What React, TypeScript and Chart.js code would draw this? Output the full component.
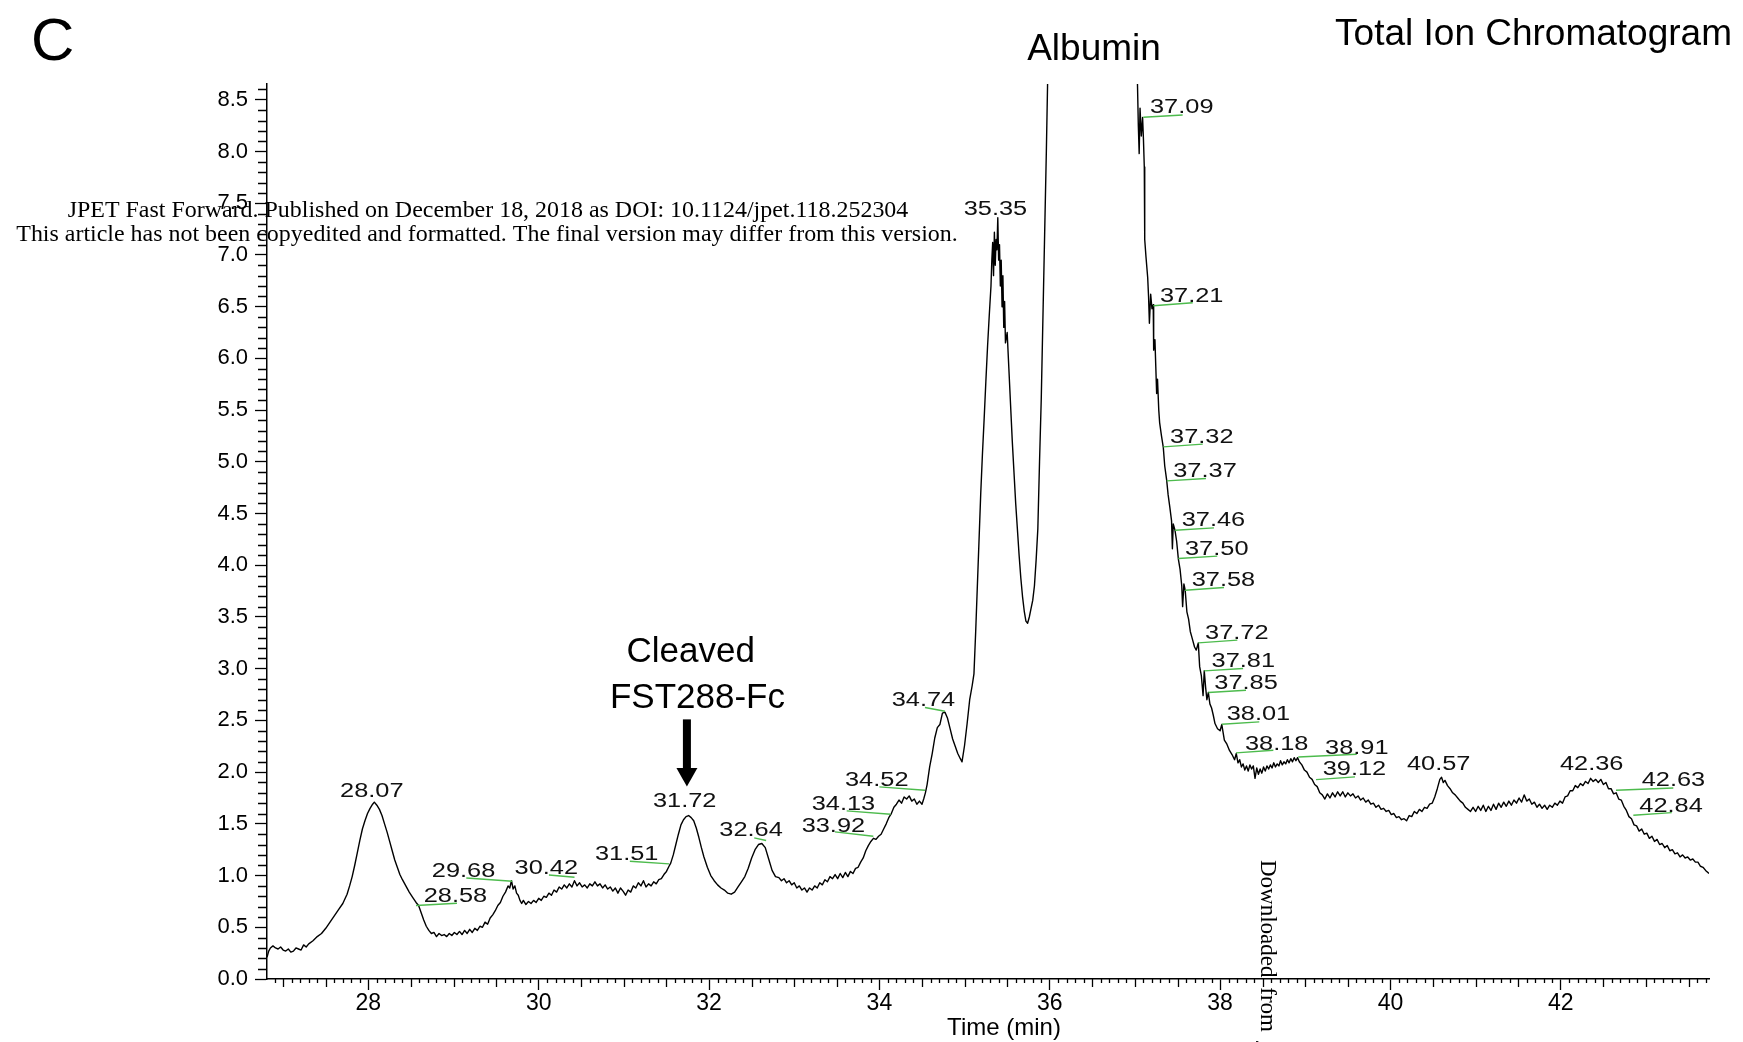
import { useEffect, useRef } from 'react';
import { Chart, registerables } from 'chart.js';

Chart.register(...registerables);

// ---- Data (time in min, relative intensity) ----
const ticTrace: [number, number][] = [
  [26.81, 0.21], [26.83, 0.27], [26.85, 0.30], [26.88, 0.32], [26.91, 0.30], [26.94, 0.29], [26.97, 0.31], [27.0, 0.28],
  [27.03, 0.27], [27.06, 0.29], [27.09, 0.26], [27.12, 0.27], [27.15, 0.30], [27.18, 0.29], [27.21, 0.28], [27.24, 0.33],
  [27.27, 0.31], [27.3, 0.34], [27.35, 0.37], [27.4, 0.41], [27.45, 0.44], [27.5, 0.49], [27.55, 0.55], [27.6, 0.61],
  [27.65, 0.67], [27.7, 0.73], [27.75, 0.82], [27.78, 0.9], [27.81, 0.99], [27.84, 1.1], [27.87, 1.22], [27.9, 1.34],
  [27.93, 1.45], [27.96, 1.53], [27.99, 1.6], [28.02, 1.65], [28.05, 1.69], [28.07, 1.71], [28.1, 1.68], [28.13, 1.64],
  [28.16, 1.58], [28.19, 1.5], [28.22, 1.42], [28.25, 1.33], [28.28, 1.24], [28.31, 1.15], [28.34, 1.08], [28.37, 1.01],
  [28.4, 0.96], [28.44, 0.9], [28.48, 0.84], [28.52, 0.79], [28.56, 0.74], [28.59, 0.71], [28.62, 0.64], [28.65, 0.57],
  [28.68, 0.51], [28.71, 0.47], [28.74, 0.44], [28.77, 0.45], [28.8, 0.41], [28.83, 0.44], [28.86, 0.42], [28.89, 0.43],
  [28.92, 0.41], [28.95, 0.44], [28.98, 0.42], [29.01, 0.45], [29.04, 0.43], [29.07, 0.46], [29.1, 0.43], [29.13, 0.47],
  [29.16, 0.44], [29.19, 0.48], [29.22, 0.45], [29.25, 0.49], [29.28, 0.47], [29.31, 0.51], [29.34, 0.5], [29.37, 0.55],
  [29.4, 0.53], [29.43, 0.59], [29.46, 0.62], [29.49, 0.66], [29.52, 0.71], [29.55, 0.74], [29.58, 0.8], [29.61, 0.84],
  [29.64, 0.9], [29.66, 0.88], [29.68, 0.95], [29.7, 0.87], [29.72, 0.9], [29.74, 0.83], [29.76, 0.81], [29.78, 0.76],
  [29.8, 0.73], [29.82, 0.76], [29.85, 0.72], [29.88, 0.75], [29.91, 0.73], [29.94, 0.76], [29.97, 0.74], [30.0, 0.78],
  [30.03, 0.76], [30.06, 0.8], [30.09, 0.79], [30.12, 0.83], [30.15, 0.81], [30.18, 0.86], [30.21, 0.84], [30.24, 0.89],
  [30.27, 0.87], [30.3, 0.91], [30.33, 0.88], [30.36, 0.92], [30.39, 0.89], [30.42, 0.95], [30.45, 0.9], [30.48, 0.93],
  [30.51, 0.89], [30.54, 0.91], [30.57, 0.88], [30.6, 0.92], [30.63, 0.9], [30.66, 0.94], [30.69, 0.9], [30.72, 0.92],
  [30.75, 0.88], [30.78, 0.91], [30.81, 0.87], [30.84, 0.89], [30.87, 0.85], [30.9, 0.88], [30.93, 0.83], [30.96, 0.88],
  [30.99, 0.85], [31.02, 0.81], [31.05, 0.86], [31.08, 0.84], [31.11, 0.9], [31.14, 0.88], [31.17, 0.93], [31.2, 0.9],
  [31.23, 0.95], [31.26, 0.89], [31.29, 0.92], [31.32, 0.9], [31.35, 0.94], [31.38, 0.92], [31.41, 0.96], [31.44, 0.97],
  [31.47, 1.01], [31.5, 1.04], [31.53, 1.09], [31.55, 1.12], [31.58, 1.2], [31.61, 1.3], [31.64, 1.4], [31.67, 1.49],
  [31.7, 1.54], [31.73, 1.57], [31.76, 1.58], [31.79, 1.56], [31.82, 1.53], [31.85, 1.46], [31.88, 1.37], [31.91, 1.27],
  [31.94, 1.18], [31.98, 1.08], [32.02, 1.0], [32.06, 0.95], [32.1, 0.91], [32.14, 0.88], [32.18, 0.86], [32.22, 0.83],
  [32.26, 0.82], [32.3, 0.84], [32.34, 0.89], [32.38, 0.94], [32.42, 0.99], [32.46, 1.07], [32.5, 1.17], [32.54, 1.25],
  [32.58, 1.3], [32.62, 1.31], [32.66, 1.27], [32.7, 1.16], [32.74, 1.05], [32.78, 0.99], [32.82, 0.98], [32.85, 0.95],
  [32.88, 0.97], [32.91, 0.93], [32.94, 0.95], [32.97, 0.91], [33.0, 0.93], [33.03, 0.88], [33.06, 0.9], [33.09, 0.86],
  [33.12, 0.88], [33.15, 0.84], [33.18, 0.88], [33.21, 0.86], [33.24, 0.9], [33.27, 0.88], [33.3, 0.93], [33.33, 0.91],
  [33.36, 0.96], [33.39, 0.94], [33.42, 0.99], [33.45, 0.97], [33.48, 1.01], [33.51, 0.97], [33.54, 1.02], [33.57, 0.98],
  [33.6, 1.03], [33.63, 0.99], [33.66, 1.04], [33.69, 1.02], [33.72, 1.07], [33.75, 1.08], [33.78, 1.13], [33.81, 1.17],
  [33.84, 1.24], [33.87, 1.29], [33.9, 1.33], [33.93, 1.36], [33.96, 1.35], [33.99, 1.38], [34.02, 1.4], [34.05, 1.45],
  [34.08, 1.5], [34.11, 1.56], [34.14, 1.6], [34.17, 1.66], [34.2, 1.69], [34.23, 1.73], [34.26, 1.7], [34.29, 1.76],
  [34.32, 1.74], [34.35, 1.77], [34.38, 1.72], [34.41, 1.74], [34.44, 1.69], [34.47, 1.72], [34.5, 1.69], [34.52, 1.74],
  [34.54, 1.8], [34.56, 1.88], [34.59, 2.05], [34.62, 2.18], [34.65, 2.33], [34.68, 2.43], [34.71, 2.46],
  [34.74, 2.57], [34.77, 2.58], [34.8, 2.52], [34.83, 2.42], [34.86, 2.32], [34.89, 2.25], [34.92, 2.18], [34.95, 2.13],
  [34.97, 2.1], [35.0, 2.26], [35.03, 2.47], [35.06, 2.7], [35.09, 2.84], [35.11, 2.95], [35.13, 3.35], [35.15, 3.8],
  [35.17, 4.25], [35.19, 4.7], [35.21, 5.08], [35.23, 5.42], [35.25, 5.78], [35.27, 6.12], [35.29, 6.42], [35.31, 6.7],
  [35.32, 6.95], [35.33, 7.12], [35.34, 6.8], [35.35, 7.22], [35.36, 6.9], [35.37, 7.15], [35.38, 7.05], [35.39, 7.36],
  [35.4, 6.95], [35.41, 7.1], [35.42, 6.7], [35.43, 6.95], [35.44, 6.5], [35.45, 6.8], [35.46, 6.3], [35.47, 6.55],
  [35.48, 6.15], [35.5, 6.25], [35.52, 5.9], [35.54, 5.55], [35.56, 5.2], [35.58, 4.9], [35.6, 4.6], [35.62, 4.35],
  [35.64, 4.1], [35.66, 3.88], [35.68, 3.7], [35.7, 3.56], [35.72, 3.46], [35.74, 3.44], [35.76, 3.5], [35.78, 3.58],
  [35.8, 3.66], [35.82, 3.8], [35.84, 4.05], [35.86, 4.35], [35.88, 5.0], [35.9, 5.6], [35.92, 6.4], [35.94, 7.2],
  [35.96, 8.0], [35.98, 8.9], [36.0, 9.8], [36.05, 12.4], [36.15, 15.5], [36.3, 18.2], [36.5, 19.6], [36.7, 18.1],
  [36.85, 14.6], [36.95, 11.6], [37.0, 9.7], [37.02, 8.95], [37.03, 8.65], [37.04, 8.25], [37.05, 7.98], [37.06, 8.42],
  [37.075, 8.15], [37.09, 8.33], [37.1, 8.12], [37.11, 7.85], [37.115, 7.15], [37.13, 6.98], [37.15, 6.78], [37.16, 6.6],
  [37.17, 6.34], [37.185, 6.62], [37.2, 6.48], [37.215, 6.52], [37.22, 6.08], [37.235, 6.18], [37.245, 5.92], [37.255, 5.66],
  [37.265, 5.8], [37.28, 5.5], [37.29, 5.38], [37.31, 5.26], [37.333, 5.14], [37.35, 4.96], [37.373, 4.82], [37.39, 4.68],
  [37.41, 4.56], [37.43, 4.43], [37.44, 4.16], [37.45, 4.4], [37.47, 4.34], [37.49, 4.23], [37.51, 4.06], [37.53, 3.96],
  [37.55, 3.8], [37.56, 3.6], [37.575, 3.82], [37.59, 3.76], [37.61, 3.55], [37.63, 3.48], [37.65, 3.36], [37.67, 3.3],
  [37.7, 3.21], [37.72, 3.18], [37.744, 3.25], [37.76, 3.02], [37.78, 2.93], [37.8, 2.74], [37.814, 2.98], [37.83, 2.82],
  [37.845, 2.7], [37.862, 2.77], [37.88, 2.66], [37.9, 2.62], [37.92, 2.55], [37.94, 2.47], [37.97, 2.42], [38.0, 2.4],
  [38.02, 2.46], [38.05, 2.31], [38.08, 2.27], [38.11, 2.21], [38.14, 2.17], [38.17, 2.12], [38.19, 2.18], [38.21, 2.09],
  [38.23, 2.12], [38.25, 2.05], [38.27, 2.08], [38.29, 2.02], [38.31, 2.06], [38.33, 2.01], [38.35, 2.07], [38.37, 2.03],
  [38.39, 2.06], [38.41, 1.94], [38.43, 2.04], [38.45, 1.98], [38.47, 2.03], [38.49, 1.99], [38.51, 2.05], [38.53, 2.01],
  [38.55, 2.06], [38.57, 2.03], [38.59, 2.07], [38.61, 2.04], [38.63, 2.09], [38.65, 2.05], [38.67, 2.08], [38.69, 2.06],
  [38.71, 2.11], [38.73, 2.07], [38.75, 2.1], [38.77, 2.08], [38.79, 2.12], [38.81, 2.09], [38.83, 2.13], [38.85, 2.1],
  [38.87, 2.14], [38.89, 2.11], [38.91, 2.14], [38.93, 2.1], [38.96, 2.07], [38.99, 2.02], [39.02, 2.0], [39.05, 1.95],
  [39.08, 1.93], [39.11, 1.88], [39.14, 1.86], [39.17, 1.8], [39.2, 1.78], [39.23, 1.74], [39.26, 1.79], [39.29, 1.75],
  [39.32, 1.8], [39.35, 1.76], [39.38, 1.81], [39.41, 1.77], [39.44, 1.81], [39.47, 1.76], [39.5, 1.8], [39.53, 1.77],
  [39.56, 1.79], [39.59, 1.75], [39.62, 1.77], [39.65, 1.73], [39.68, 1.75], [39.71, 1.71], [39.74, 1.73], [39.77, 1.69],
  [39.8, 1.7], [39.83, 1.66], [39.86, 1.68], [39.89, 1.64], [39.92, 1.65], [39.95, 1.62], [39.98, 1.63], [40.01, 1.59],
  [40.04, 1.6], [40.07, 1.56], [40.1, 1.57], [40.13, 1.54], [40.16, 1.55], [40.19, 1.53], [40.22, 1.58], [40.25, 1.57],
  [40.28, 1.62], [40.31, 1.6], [40.34, 1.64], [40.37, 1.62], [40.4, 1.66], [40.43, 1.65], [40.46, 1.69], [40.49, 1.7],
  [40.52, 1.76], [40.55, 1.84], [40.58, 1.93], [40.6, 1.95], [40.62, 1.9], [40.64, 1.92], [40.67, 1.87], [40.7, 1.84],
  [40.73, 1.8], [40.76, 1.78], [40.79, 1.75], [40.82, 1.72], [40.85, 1.7], [40.88, 1.66], [40.91, 1.64], [40.94, 1.62],
  [40.97, 1.66], [41.0, 1.62], [41.03, 1.67], [41.06, 1.63], [41.09, 1.68], [41.12, 1.62], [41.15, 1.67], [41.18, 1.63],
  [41.21, 1.69], [41.24, 1.64], [41.27, 1.7], [41.3, 1.66], [41.33, 1.71], [41.36, 1.67], [41.39, 1.72], [41.42, 1.68],
  [41.45, 1.73], [41.48, 1.7], [41.51, 1.75], [41.54, 1.71], [41.57, 1.78], [41.6, 1.72], [41.63, 1.74], [41.66, 1.69],
  [41.69, 1.71], [41.72, 1.66], [41.75, 1.69], [41.78, 1.65], [41.81, 1.68], [41.84, 1.64], [41.87, 1.68], [41.9, 1.66],
  [41.93, 1.7], [41.96, 1.68], [41.99, 1.72], [42.02, 1.7], [42.05, 1.76], [42.08, 1.77], [42.11, 1.82], [42.14, 1.82],
  [42.17, 1.87], [42.2, 1.85], [42.23, 1.89], [42.26, 1.87], [42.29, 1.91], [42.32, 1.89], [42.35, 1.94], [42.38, 1.91],
  [42.41, 1.93], [42.44, 1.9], [42.47, 1.93], [42.5, 1.88], [42.53, 1.9], [42.56, 1.84], [42.59, 1.84], [42.62, 1.79],
  [42.65, 1.8], [42.68, 1.74], [42.71, 1.73], [42.74, 1.67], [42.77, 1.63], [42.8, 1.57], [42.83, 1.55], [42.86, 1.49],
  [42.89, 1.48], [42.92, 1.43], [42.95, 1.45], [42.98, 1.4], [43.01, 1.41], [43.04, 1.36], [43.07, 1.38], [43.1, 1.33],
  [43.13, 1.35], [43.16, 1.3], [43.19, 1.31], [43.22, 1.27], [43.25, 1.29], [43.28, 1.24], [43.31, 1.25], [43.34, 1.21],
  [43.37, 1.22], [43.4, 1.18], [43.43, 1.2], [43.46, 1.17], [43.49, 1.18], [43.52, 1.15], [43.55, 1.16], [43.58, 1.13],
  [43.61, 1.13], [43.64, 1.09], [43.67, 1.08], [43.7, 1.05], [43.74, 1.02],
];

// Peak retention times that are labelled on the trace
const peakTimes = [
  28.07, 28.58, 29.68, 30.42, 31.51, 31.72, 32.64, 33.92, 34.13, 34.52, 34.74, 35.35, 37.09, 37.21, 37.32,
  37.37, 37.46, 37.5, 37.58, 37.72, 37.81, 37.85, 38.01, 38.18, 38.91, 39.12, 40.57, 42.36, 42.63, 42.84,
];

// Axis extents (min, intensity)
const X_MIN = 26.81;
const X_MAX = 43.74;
const Y_MAX = 8.653;

// ---- Layout of the peak labels (data units): text anchor, alignment and leader line ----
type LabelLayout = { t: number; v: number; align: 'left' | 'center'; leader?: [number, number, number, number] };
const peakLabelLayout: LabelLayout[] = [
  { t: 28.04, v: 1.757, align: 'center' },
  { t: 28.65, v: 0.742, align: 'left', leader: [28.56, 0.71, 29.04, 0.732] },
  { t: 28.745, v: 0.99, align: 'left', leader: [29.15, 0.977, 29.69, 0.945] },
  { t: 29.716, v: 1.016, align: 'left', leader: [30.12, 1.006, 30.42, 0.984] },
  { t: 30.66, v: 1.152, align: 'left', leader: [31.07, 1.139, 31.53, 1.113] },
  { t: 31.714, v: 1.663, align: 'center' },
  { t: 32.12, v: 1.387, align: 'left', leader: [32.53, 1.365, 32.67, 1.339] },
  { t: 33.087, v: 1.422, align: 'left', leader: [33.478, 1.422, 33.928, 1.38] },
  { t: 33.205, v: 1.638, align: 'left', leader: [33.616, 1.625, 34.132, 1.593] },
  { t: 33.596, v: 1.864, align: 'left', leader: [34.0, 1.857, 34.535, 1.825] },
  { t: 34.144, v: 2.637, align: 'left', leader: [34.535, 2.625, 34.77, 2.589] },
  { t: 35.362, v: 7.39, align: 'center' },
  { t: 37.177, v: 8.369, align: 'left', leader: [37.098, 8.331, 37.56, 8.353] },
  { t: 37.294, v: 6.547, align: 'left', leader: [37.216, 6.509, 37.678, 6.538] },
  { t: 37.412, v: 5.184, align: 'left', leader: [37.333, 5.145, 37.796, 5.171] },
  { t: 37.45, v: 4.855, align: 'left', leader: [37.373, 4.816, 37.834, 4.839] },
  { t: 37.549, v: 4.378, align: 'left', leader: [37.47, 4.339, 37.928, 4.362] },
  { t: 37.588, v: 4.098, align: 'left', leader: [37.509, 4.066, 37.967, 4.088] },
  { t: 37.666, v: 3.798, align: 'left', leader: [37.588, 3.759, 38.046, 3.785] },
  { t: 37.823, v: 3.285, align: 'left', leader: [37.744, 3.25, 38.202, 3.276] },
  { t: 37.9, v: 3.017, align: 'left', leader: [37.814, 2.979, 38.27, 3.002] },
  { t: 37.932, v: 2.808, align: 'left', leader: [37.862, 2.77, 38.304, 2.792] },
  { t: 38.077, v: 2.502, align: 'left', leader: [38.019, 2.463, 38.46, 2.486] },
  { t: 38.292, v: 2.218, align: 'left', leader: [38.187, 2.186, 38.625, 2.212] },
  { t: 39.232, v: 2.18, align: 'left', leader: [38.918, 2.147, 39.604, 2.173] },
  { t: 39.205, v: 1.97, align: 'left', leader: [39.126, 1.928, 39.584, 1.954] },
  { t: 40.566, v: 2.018, align: 'center' },
  { t: 42.363, v: 2.018, align: 'center' },
  { t: 42.95, v: 1.864, align: 'left', leader: [42.648, 1.825, 43.321, 1.847] },
  { t: 42.922, v: 1.615, align: 'left', leader: [42.852, 1.583, 43.302, 1.609] },
];

const SANS = "'Liberation Sans', Arial, Helvetica, sans-serif";
const SERIF = "'Liberation Serif', 'Times New Roman', serif";

const watermarkLines = [
  'JPET Fast Forward. Published on December 18, 2018 as DOI: 10.1124/jpet.118.252304',
  'This article has not been copyedited and formatted. The final version may differ from this version.',
];
const sideWatermark = 'Downloaded from jpet.aspetjournals.org at ASPET Journals on';

function fillStretched(
  ctx: CanvasRenderingContext2D,
  text: string,
  x: number,
  y: number,
  font: string,
  targetWidth: number,
  align: CanvasTextAlign,
) {
  ctx.save();
  ctx.font = font;
  const w = ctx.measureText(text).width;
  const sx = w > 0 ? targetWidth / w : 1;
  ctx.translate(x, y);
  ctx.scale(sx, 1);
  ctx.textAlign = align;
  ctx.textBaseline = 'alphabetic';
  ctx.fillText(text, 0, 0);
  ctx.restore();
}

const overlayPlugin = {
  id: 'ticOverlay',
  afterDraw(chart: any) {
    const { ctx, chartArea } = chart;
    const xs = chart.scales.x;
    const ys = chart.scales.y;
    const px = (t: number) => xs.getPixelForValue(t);
    const py = (v: number) => ys.getPixelForValue(v);

    ctx.save();
    // minor ticks
    ctx.strokeStyle = '#000';
    ctx.lineWidth = 1.3;
    ctx.beginPath();
    for (let k = Math.ceil(X_MIN * 10); k <= Math.floor(X_MAX * 10); k++) {
      if (k % 20 === 0) continue;
      const len = k % 5 === 0 ? 8 : 4;
      const xx = Math.round(px(k / 10)) + 0.5;
      ctx.moveTo(xx, chartArea.bottom);
      ctx.lineTo(xx, chartArea.bottom + len);
    }
    for (let k = 1; k <= Math.floor(Y_MAX * 10 + 1e-6); k++) {
      if (k % 5 === 0) continue;
      const yy = Math.round(py(k / 10)) + 0.5;
      ctx.moveTo(chartArea.left - 9, yy);
      ctx.lineTo(chartArea.left, yy);
    }
    ctx.stroke();

    // peak labels with green leader lines
    ctx.strokeStyle = '#4dbb4d';
    ctx.lineWidth = 1.4;
    peakLabelLayout.forEach((lay) => {
      if (!lay.leader) return;
      const [t1, v1, t2, v2] = lay.leader;
      ctx.beginPath();
      ctx.moveTo(px(t1), py(v1));
      ctx.lineTo(px(t2), py(v2));
      ctx.stroke();
    });
    ctx.fillStyle = '#111';
    peakTimes.forEach((pt, i) => {
      const lay = peakLabelLayout[i];
      fillStretched(ctx, pt.toFixed(2), px(lay.t), py(lay.v), `20px ${SANS}`, 63.5, lay.align);
    });

    // Cleaved FST288-Fc annotation with arrow
    ctx.fillStyle = '#000';
    ctx.font = `35px ${SANS}`;
    ctx.textAlign = 'center';
    ctx.textBaseline = 'alphabetic';
    ctx.fillText('Cleaved', px(31.785), py(3.063));
    ctx.fillText('FST288-Fc', px(31.864), py(2.618));
    const ax = px(31.74);
    const aTop = py(2.51);
    const aHead = py(2.04);
    const aTip = py(1.86);
    ctx.fillRect(ax - 4, aTop, 8, aHead - aTop + 1);
    ctx.beginPath();
    ctx.moveTo(ax - 10.5, aHead);
    ctx.lineTo(ax + 10.5, aHead);
    ctx.lineTo(ax, aTip);
    ctx.closePath();
    ctx.fill();

    // titles
    ctx.font = `37px ${SANS}`;
    ctx.textAlign = 'center';
    ctx.fillText('Albumin', 1094, 60);
    ctx.textAlign = 'right';
    ctx.fillText('Total Ion Chromatogram', 1732, 45);
    ctx.textAlign = 'left';
    ctx.font = `60px ${SANS}`;
    ctx.fillText('C', 31, 60);

    // x-axis title
    ctx.font = `24px ${SANS}`;
    ctx.textAlign = 'center';
    ctx.fillText('Time (min)', 1004, 1035);

    // journal watermark
    ctx.font = `22px ${SERIF}`;
    const w2 = ctx.measureText(watermarkLines[1]).width;
    const wmSize = (22 * 942) / w2;
    ctx.font = `${wmSize}px ${SERIF}`;
    ctx.textAlign = 'center';
    ctx.fillText(watermarkLines[0], 488, 217);
    ctx.fillText(watermarkLines[1], 487, 241);

    ctx.save();
    ctx.translate(1267, 860);
    ctx.rotate(Math.PI / 2);
    ctx.font = `23px ${SERIF}`;
    try {
      (ctx as any).wordSpacing = '4px';
    } catch (e) {
      /* ignore */
    }
    ctx.textAlign = 'left';
    ctx.textBaseline = 'middle';
    ctx.fillText(sideWatermark, 0, 0);
    ctx.restore();

    ctx.restore();
  },
};

export default function App() {
  const canvasRef = useRef<HTMLCanvasElement | null>(null);

  useEffect(() => {
    const canvas = canvasRef.current;
    if (!canvas) return;
    const chart = new Chart(canvas, {
      type: 'line',
      data: {
        datasets: [
          {
            label: 'Total Ion Chromatogram',
            data: ticTrace.map(([t, v]) => ({ x: t, y: v })),
            borderColor: '#000',
            borderWidth: 1.4,
            borderJoinStyle: 'round',
            pointRadius: 0,
            tension: 0,
            fill: false,
          },
        ],
      },
      options: {
        animation: false,
        responsive: false,
        devicePixelRatio: 1,
        events: [],
        layout: { padding: { top: 84, right: 34, left: 0, bottom: 0 } },
        plugins: { legend: { display: false }, tooltip: { enabled: false }, title: { display: false } },
        scales: {
          x: {
            type: 'linear',
            min: X_MIN,
            max: X_MAX,
            afterFit: (s: any) => {
              s.height = 63;
            },
            ticks: {
              stepSize: 2,
              includeBounds: false,
              autoSkip: false,
              maxRotation: 0,
              padding: 0,
              color: '#000',
              font: { family: SANS, size: 23 },
              callback: (v: any) => String(v),
            },
            grid: { drawOnChartArea: false, drawTicks: true, tickLength: 11, tickColor: '#000', tickWidth: 1.3 },
            border: { display: true, color: '#000', width: 1.5 },
          },
          y: {
            type: 'linear',
            min: 0,
            max: Y_MAX,
            afterFit: (s: any) => {
              s.width = 267;
            },
            ticks: {
              stepSize: 0.5,
              includeBounds: false,
              autoSkip: false,
              padding: 7,
              color: '#000',
              font: { family: SANS, size: 22 },
              callback: (v: any) => Number(v).toFixed(1),
            },
            grid: { drawOnChartArea: false, drawTicks: true, tickLength: 12, tickColor: '#000', tickWidth: 1.3 },
            border: { display: true, color: '#000', width: 1.5 },
          },
        },
      } as any,
      plugins: [overlayPlugin],
    });
    return () => chart.destroy();
  }, []);

  return (
    <div style={{ position: 'fixed', left: 0, top: 0, width: 1743, height: 1042, background: '#fff' }}>
      <canvas ref={canvasRef} width={1743} height={1042} style={{ display: 'block', width: 1743, height: 1042 }} />
    </div>
  );
}
